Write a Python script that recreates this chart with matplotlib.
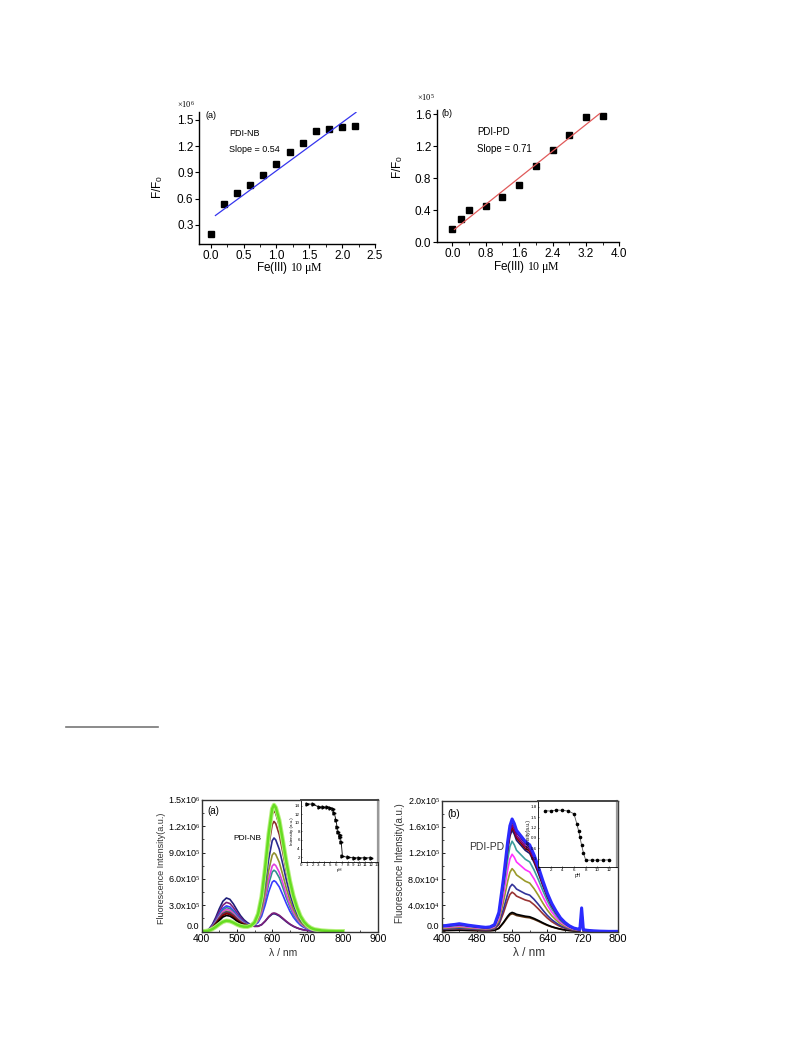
import matplotlib
matplotlib.use("Agg")
import matplotlib.pyplot as plt
import numpy as np
from matplotlib.ticker import FixedLocator, MultipleLocator

plt.rcParams['font.family'] = ['Liberation Sans', 'DejaVu Sans']
plt.rcParams['mathtext.fontset'] = 'custom'
plt.rcParams['mathtext.rm'] = 'Liberation Serif'
plt.rcParams['mathtext.it'] = 'Liberation Serif:italic'
plt.rcParams['mathtext.sf'] = 'Liberation Sans'

W, H = 793, 1057

# ---- top panels: F/F0 vs Fe(III) ----
fe_a = [0.0, 0.2, 0.4, 0.6, 0.8, 1.0, 1.2, 1.4, 1.6, 1.8, 2.0, 2.2]
ratio_a = [0.20, 0.54, 0.67, 0.76, 0.87, 1.00, 1.13, 1.24, 1.37, 1.40, 1.42, 1.43]
fit_a = (0.55, 0.37)          # slope, intercept of drawn line
fit_a_x = [0.07, 2.21]

fe_b = [0.0, 0.2, 0.4, 0.8, 1.2, 1.6, 2.0, 2.4, 2.8, 3.2, 3.6]
ratio_b = [0.17, 0.29, 0.40, 0.45, 0.57, 0.71, 0.95, 1.15, 1.34, 1.56, 1.58]
fit_b = (0.415, 0.14)
fit_b_x = [0.05, 3.53]

# ---- bottom panels: emission spectra ----
wl_a = [400, 410, 420, 430, 440, 450, 460, 470, 480, 490, 500, 510, 520, 530, 540,
        550, 560, 570, 580, 590, 600, 605, 610, 620, 630, 640, 650, 660, 670, 680,
        690, 700, 710, 720, 740, 760, 780, 800]
band470 = [0.0, 0.01, 0.06, 0.2, 0.42, 0.68, 0.9, 1.0, 0.96, 0.82, 0.64, 0.47, 0.34, 0.25, 0.18,
           0.13, 0.09, 0.065, 0.05, 0.04, 0.03, 0.027, 0.024, 0.02, 0.015, 0.012, 0.009, 0.007, 0.005, 0.003,
           0.002, 0.001, 0.0, 0.0, 0.0, 0.0, 0.0, 0.0]
band605 = [0.0, 0.0, 0.0, 0.0, 0.0, 0.0, 0.0, 0.0, 0.0, 0.0, 0.0, 0.003, 0.008, 0.015, 0.03,
           0.06, 0.13, 0.27, 0.5, 0.77, 0.97, 1.0, 0.98, 0.88, 0.72, 0.55, 0.4, 0.28, 0.19, 0.12,
           0.075, 0.045, 0.026, 0.015, 0.006, 0.002, 0.0, 0.0]
peak470_a = [0.38, 0.33, 0.29, 0.27, 0.25, 0.23, 0.22, 0.21, 0.20, 0.18, 0.12]   # x10^6
peak605_a = [0.19, 0.20, 0.57, 0.69, 0.76, 0.89, 1.06, 1.25, 1.37, 1.39, 1.44]   # x10^6
colors_a = ['#1f1f7a', '#7b1f7b', '#3a3aff', '#2f8f8f', '#e040e0', '#8f8f2f',
            '#2a2a90', '#8b2a2a', '#800000', '#000000', '#66dd22']

ph_a = [1, 2, 3, 3.7, 4.4, 5.0, 5.4, 5.7, 6.0, 6.2, 6.4, 6.6, 6.75, 6.9, 7.1, 8, 9, 10, 11, 12]
int_a = [14.5, 14.4, 13.8, 13.7, 13.7, 13.6, 13.4, 12.4, 10.6, 9.0, 7.8, 7.1, 6.6, 5.5, 2.2,
         1.9, 1.8, 1.8, 1.8, 1.8]

wl_b = [400, 410, 420, 430, 440, 450, 460, 470, 480, 490, 500, 510, 520, 530, 540, 545,
        550, 555, 560, 565, 570, 580, 590, 600, 610, 620, 630, 640, 650, 660, 670, 680,
        690, 700, 710, 714, 718, 722, 730, 740, 760, 780, 800]
band560 = [0.05, 0.052, 0.058, 0.062, 0.068, 0.062, 0.055, 0.05, 0.045, 0.04, 0.036, 0.04,
           0.06, 0.17, 0.46, 0.63, 0.8, 0.94, 1.0, 0.96, 0.9, 0.85, 0.8, 0.77, 0.68, 0.57,
           0.45, 0.34, 0.25, 0.18, 0.12, 0.08, 0.05, 0.03, 0.02, 0.018, 0.017, 0.015, 0.01,
           0.006, 0.002, 0.0, 0.0]
scatter718 = [0, 0, 0, 0, 0, 0, 0, 0, 0, 0, 0, 0, 0, 0, 0, 0, 0, 0, 0, 0, 0, 0, 0, 0, 0,
              0, 0, 0, 0, 0, 0, 0, 0, 0, 0, 0, 1, 0, 0, 0, 0, 0, 0]
peak560_b = [2.7, 2.9, 6.0, 7.2, 9.6, 11.8, 13.8, 15.5, 15.9, 16.3, 16.8, 17.2]  # x10^4
spike_b = [1.5, 1.6, 2.0, 2.1, 2.3, 2.5, 2.6, 2.8, 2.8, 2.9, 3.0, 3.3]          # x10^4
colors_b = ['#5a3010', '#000000', '#993333', '#333399', '#9a9a2a', '#ff33ff',
            '#3c9c9c', '#191970', '#8b0000', '#800080', '#4b0082', '#2b2bff']

ph_b = [1, 2, 3, 4, 5, 6, 6.5, 6.8, 7.0, 7.3, 7.6, 8, 9, 10, 11, 12]
int_b = [1.69, 1.68, 1.71, 1.70, 1.68, 1.60, 1.30, 1.10, 0.94, 0.69, 0.48, 0.26,
         0.26, 0.26, 0.26, 0.27]


def rect(l, t, r, b):
    return [l / W, 1 - b / H, (r - l) / W, (b - t) / H]


def ftext(x, y, s, **kw):
    fig.text(x / W, 1 - y / H, s, **kw)


fig = plt.figure(figsize=(W / 100, H / 100), dpi=100)
fig.patch.set_facecolor('white')

# separator line of the page footnote
fig.add_artist(plt.Line2D([66 / W, 158 / W], [1 - 727 / H, 1 - 727 / H],
                          color='#777777', lw=1.2))


def top_panel(ax, xs, ys, fit, fit_x, color, xlim, ylim, xt, yt):
    ax.plot(xs, ys, 's', color='black', ms=4)
    fx = np.array(fit_x)
    ax.plot(fx, fit[0] * fx + fit[1], color=color, lw=0.9)
    ax.set_xlim(*xlim)
    ax.set_ylim(*ylim)
    for s in ['top', 'right']:
        ax.spines[s].set_visible(False)
    for s in ['left', 'bottom']:
        ax.spines[s].set_linewidth(1.0)
    ax.xaxis.set_major_locator(FixedLocator(xt))
    ax.yaxis.set_major_locator(FixedLocator(yt))
    ax.set_xticklabels(['%.1f' % v for v in xt])
    ax.set_yticklabels(['%.1f' % v for v in yt])
    ax.tick_params(direction='out', length=3, width=0.8, labelsize=8.5, pad=1.0)
    ax.patch.set_alpha(0)


ax1 = fig.add_axes(rect(199, 112, 375, 244))
top_panel(ax1, fe_a, ratio_a, fit_a, fit_a_x, '#3535ee', (-0.18, 2.5), (0.083, 1.59),
          [0.0, 0.5, 1.0, 1.5, 2.0, 2.5], [0.3, 0.6, 0.9, 1.2, 1.5])
ax1.xaxis.set_minor_locator(MultipleLocator(0.25))
ax1.tick_params(which='minor', direction='out', length=2, width=0.6)
ftext(206, 115, '(a)', fontsize=6.5, va='center')
ftext(229, 134, 'PDI-NB', fontsize=6.5, va='center')
ftext(229, 150, 'Slope = 0.54', fontsize=6.5, va='center')
ftext(177, 104, r'$\times10^{6}$', fontsize=6, va='center')
ftext(158, 187, r'F/F$_\mathsf{0}$', fontsize=8.5, rotation=90, ha='center', va='center')
ftext(290, 268, r'Fe(III) $\mathrm{10\ μM}$', fontsize=8.5, ha='center', va='center')

ax2 = fig.add_axes(rect(436.7, 110, 619.3, 242.3))
top_panel(ax2, fe_b, ratio_b, fit_b, fit_b_x, '#e05a5a', (-0.375, 4.0), (0.0, 1.65),
          [0.0, 0.8, 1.6, 2.4, 3.2, 4.0], [0.0, 0.4, 0.8, 1.2, 1.6])
ax2.xaxis.set_minor_locator(MultipleLocator(0.4))
ax2.tick_params(which='minor', direction='out', length=2, width=0.6)
ftext(442, 113, '(b)', fontsize=6.5, va='center')
ftext(477, 132, 'PDI-PD', fontsize=7, va='center')
ftext(477, 149, 'Slope = 0.71', fontsize=7, va='center')
ftext(417, 97, r'$\times10^{5}$', fontsize=6, va='center')
ftext(398, 167, r'F/F$_\mathsf{0}$', fontsize=8.5, rotation=90, ha='center', va='center')
ftext(527, 267, r'Fe(III) $\mathrm{10\ μM}$', fontsize=8.5, ha='center', va='center')


def spec_axes(ax):
    for s in ax.spines.values():
        s.set_linewidth(1.0)
        s.set_color('#333333')
    ax.tick_params(direction='in', length=2.5, width=0.6, labelsize=7.5, pad=1.5)
    ax.tick_params(which='minor', direction='in', length=1.5, width=0.5)
    # lift the "0.0" label a little so it clears the first x label
    ax.get_yticklabels()[0].set_verticalalignment('bottom')


# ---- bottom left spectra ----
ax3 = fig.add_axes(rect(201.7, 800, 378, 931.7))
b1 = np.array(band470)
b2 = np.array(band605)
for a470, a605, c in zip(peak470_a, peak605_a, colors_a):
    y = (a470 * b1 + a605 * b2) * 1e6
    if c == '#66dd22':
        ax3.plot(wl_a, y, color='#b8f080', lw=3.2)
        ax3.plot(wl_a, y, color=c, lw=1.8)
    else:
        ax3.plot(wl_a, y, color=c, lw=1.2)
ax3.set_xlim(400, 900)
ax3.set_ylim(-0.005e6, 1.5e6)
ax3.xaxis.set_major_locator(FixedLocator([400, 500, 600, 700, 800, 900]))
ax3.xaxis.set_minor_locator(MultipleLocator(50))
yt3 = [0, 0.3e6, 0.6e6, 0.9e6, 1.2e6, 1.5e6]
ax3.yaxis.set_major_locator(FixedLocator(yt3))
ax3.yaxis.set_minor_locator(MultipleLocator(0.15e6))
ax3.set_yticklabels(['0.0', r'3.0x10$^{5}$', r'6.0x10$^{5}$', r'9.0x10$^{5}$',
                     r'1.2x10$^{6}$', r'1.5x10$^{6}$'])
spec_axes(ax3)
ax3.tick_params(axis='y', labelsize=6.5)
ax3.text(0.03, 0.92, '(a)', transform=ax3.transAxes, fontsize=7, va='center')
ax3.text(489, 1.056e6, 'PDI-NB', fontsize=6, va='center')
ftext(161, 868, 'Fluorescence Intensity(a.u.)', fontsize=6.5, rotation=90,
      ha='center', va='center', color='#333333')
ftext(283, 953, 'λ / nm', fontsize=7.5, ha='center', va='center', color='#333333')

ins1 = fig.add_axes(rect(301, 800, 378, 861.7))
ins1.plot(ph_a, int_a, '-', color='black', lw=0.6, marker='>', ms=2.2)
ins1.set_xlim(0, 13.2)
ins1.set_ylim(0.9, 15.4)
ins1.xaxis.set_major_locator(FixedLocator(list(range(0, 14))))
ins1.yaxis.set_major_locator(FixedLocator([2, 4, 6, 8, 10, 12, 14]))
for s in ins1.spines.values():
    s.set_linewidth(0.6)
ins1.spines['right'].set_linewidth(1.6)
ins1.spines['right'].set_color('#999999')
ins1.spines['top'].set_linewidth(1.4)
ins1.spines['top'].set_color('#444444')
ins1.tick_params(direction='in', length=1, width=0.4, labelsize=3.2, pad=0.8)
ins1.set_xlabel('pH', fontsize=3.2, labelpad=0.5)
ins1.set_ylabel('Intensity (a.u.)', fontsize=3.2, labelpad=0.5)

# ---- bottom right spectra ----
ax4 = fig.add_axes(rect(441.7, 800.7, 617.7, 931.7))
sb = np.array(band560)
sc = np.array(scatter718)
for a560, sp, c in zip(peak560_b, spike_b, colors_b):
    y = (a560 * sb + sp * sc) * 1e4
    lw = 2.2 if c == '#2b2bff' else 1.2
    ax4.plot(wl_b, y, color=c, lw=lw)
ax4.set_xlim(400, 800)
ax4.set_ylim(-0.05e4, 2.0e5)
ax4.xaxis.set_major_locator(FixedLocator([400, 480, 560, 640, 720, 800]))
ax4.xaxis.set_minor_locator(MultipleLocator(40))
yt4 = [0, 4e4, 8e4, 12e4, 16e4, 20e4]
ax4.yaxis.set_major_locator(FixedLocator(yt4))
ax4.yaxis.set_minor_locator(MultipleLocator(2e4))
ax4.set_yticklabels(['0.0', r'4.0x10$^{4}$', r'8.0x10$^{4}$', r'1.2x10$^{5}$',
                     r'1.6x10$^{5}$', r'2.0x10$^{5}$'])
spec_axes(ax4)
ax4.tick_params(axis='x', labelsize=8)
ax4.tick_params(axis='y', labelsize=6.5)
ax4.text(0.03, 0.9, '(b)', transform=ax4.transAxes, fontsize=7.5, va='center')
ax4.text(463, 1.29e5, 'PDI-PD', fontsize=7.5, va='center', color='#333333')
ftext(400, 863, 'Fluorescence Intensity(a.u.)', fontsize=7, rotation=90,
      ha='center', va='center', color='#333333')
ftext(529, 953, 'λ / nm', fontsize=8.5, ha='center', va='center', color='#333333')

ins2 = fig.add_axes(rect(538.3, 801, 616.7, 866.7))
ins2.plot(ph_b, int_b, '-', color='#555555', lw=0.6, marker='o', ms=1.6,
          mfc='black', mec='black')
ins2.set_xlim(-0.1, 13.3)
ins2.set_ylim(0.07, 1.97)
ins2.xaxis.set_major_locator(FixedLocator([0, 2, 4, 6, 8, 10, 12]))
ins2.yaxis.set_major_locator(FixedLocator([0.3, 0.6, 0.9, 1.2, 1.5, 1.8]))
ins2.set_yticklabels(['0.3', '0.6', '0.9', '1.2', '1.5', '1.8'])
for s in ins2.spines.values():
    s.set_linewidth(0.6)
ins2.spines['right'].set_linewidth(1.6)
ins2.spines['right'].set_color('#999999')
ins2.spines['top'].set_linewidth(1.4)
ins2.spines['top'].set_color('#444444')
ins2.tick_params(direction='in', length=1, width=0.4, labelsize=3.2, pad=0.8)
ins2.set_xlabel('pH', fontsize=3.5, labelpad=0.5)
ins2.set_ylabel('Intensity(a.u.)', fontsize=3.5, labelpad=0.5)

fig.savefig('out.png', dpi=100, facecolor='white')
